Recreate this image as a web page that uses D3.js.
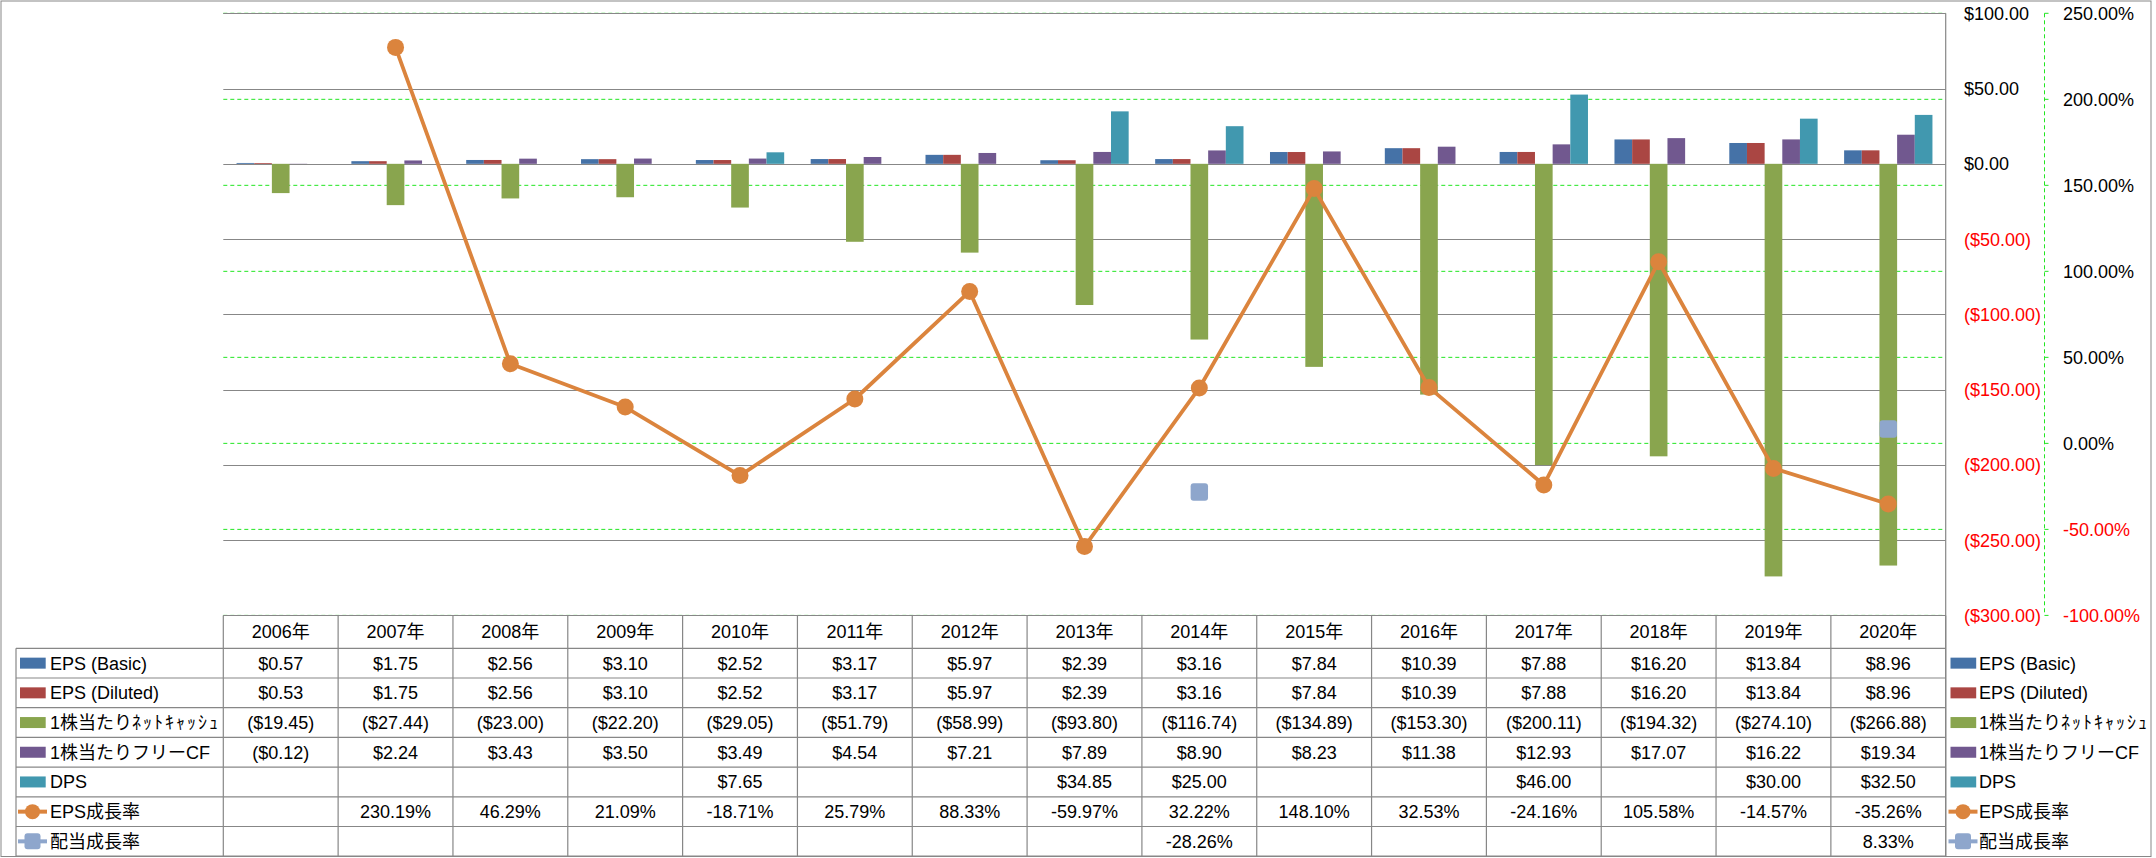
<!DOCTYPE html>
<html><head><meta charset="utf-8">
<script src="https://cdn.jsdelivr.net/npm/d3@7"></script>
<style>
html,body{margin:0;padding:0;background:#fff;}
text{font-family:"Liberation Sans","Noto Sans CJK JP",sans-serif;font-size:18px;fill:#000;}
</style>
</head><body><svg id="c" width="2156" height="858"></svg>
<script>
// ---- data ----
const years = ["2006年","2007年","2008年","2009年","2010年","2011年","2012年","2013年","2014年","2015年","2016年","2017年","2018年","2019年","2020年"];
const epsBasic   = [0.57,1.75,2.56,3.10,2.52,3.17,5.97,2.39,3.16,7.84,10.39,7.88,16.20,13.84,8.96];
const epsDiluted = [0.53,1.75,2.56,3.10,2.52,3.17,5.97,2.39,3.16,7.84,10.39,7.88,16.20,13.84,8.96];
const netCash    = [-19.45,-27.44,-23.00,-22.20,-29.05,-51.79,-58.99,-93.80,-116.74,-134.89,-153.30,-200.11,-194.32,-274.10,-266.88];
const fcf        = [-0.12,2.24,3.43,3.50,3.49,4.54,7.21,7.89,8.90,8.23,11.38,12.93,17.07,16.22,19.34];
const dps        = [null,null,null,null,7.65,null,null,34.85,25.00,null,null,46.00,null,30.00,32.50];
const epsGrowth  = [null,230.19,46.29,21.09,-18.71,25.79,88.33,-59.97,32.22,148.10,32.53,-24.16,105.58,-14.57,-35.26];
const divGrowth  = [null,null,null,null,null,null,null,null,-28.26,null,null,null,null,null,8.33];
const dollarTicks = [100,50,0,-50,-100,-150,-200,-250,-300];
const pctTicks = [250,200,150,100,50,0,-50,-100];
const barNames = ["EPS (Basic)","EPS (Diluted)","1株当たりﾈｯﾄｷｬｯｼｭ","1株当たりフリーCF","DPS"];
const lineNames = ["EPS成長率","配当成長率"];
const barColors = ["#4572A7","#AA4643","#89A54E","#71588F","#4198AF"];
const lineColors = ["#DB843D","#8EA6CC"];

// ---- layout ----
const plotL = 223.3, plotR = 1945.7, plotT = 13.3, plotB = 615.4;
const tableBottom = 856.2, headerBottom = 648.3, tableLeft = 16;
const svg = d3.select("#c");
const gray = "#878787";

const x = d3.scaleBand().domain(years).range([plotL, plotR]).paddingInner(1.5/6.5).paddingOuter(0.75/6.5);
const step = x.step();
const xs = d3.scaleBand().domain(d3.range(5)).range([0, x.bandwidth()]);
const yL = d3.scaleLinear().domain([-300,100]).range([plotB, plotT]);
const yR = d3.scaleLinear().domain([-100,250]).range([plotB, plotT]);

// outer border
svg.append("rect").attr("x",1).attr("y",1).attr("width",2150).attr("height",855.5)
  .attr("fill","none").attr("stroke",gray).attr("stroke-width",1);

// green dashed % gridlines
svg.append("g").selectAll("line").data(pctTicks).join("line")
  .attr("x1",plotL).attr("x2",plotR).attr("y1",d=>yR(d)).attr("y2",d=>yR(d))
  .attr("stroke","#22E622").attr("stroke-width",1).attr("stroke-dasharray","4,3");
// gray $ gridlines
svg.append("g").selectAll("line").data(dollarTicks).join("line")
  .attr("x1",plotL).attr("x2",plotR).attr("y1",d=>Math.round(yL(d))+0.5).attr("y2",d=>Math.round(yL(d))+0.5)
  .attr("stroke",gray).attr("stroke-width",1.2);

// bars
const barSeries = [epsBasic, epsDiluted, netCash, fcf, dps];
barSeries.forEach((arr, si) => {
  svg.append("g").selectAll("rect").data(arr.map((v,i)=>({v, y:years[i]})).filter(d=>d.v!=null)).join("rect")
    .attr("x", d => x(d.y) + xs(si))
    .attr("width", xs.bandwidth())
    .attr("y", d => Math.min(yL(d.v), yL(0)))
    .attr("height", d => Math.abs(yL(d.v) - yL(0)))
    .attr("fill", barColors[si]);
});

// right vertical axis line of plot / table right border
svg.append("line").attr("x1",plotR).attr("x2",plotR).attr("y1",plotT).attr("y2",tableBottom)
  .attr("stroke",gray).attr("stroke-width",1.2);

// EPS growth line
const cx = i => x(years[i]) + x.bandwidth()/2;
const epsPts = epsGrowth.map((v,i)=>({v,i}));
svg.append("path").datum(epsPts)
  .attr("d", d3.line().defined(d=>d.v!=null).x(d=>cx(d.i)).y(d=>yR(d.v)))
  .attr("fill","none").attr("stroke",lineColors[0]).attr("stroke-width",3.8).attr("stroke-linejoin","round");
svg.append("g").selectAll("circle").data(epsPts.filter(d=>d.v!=null)).join("circle")
  .attr("cx",d=>cx(d.i)).attr("cy",d=>yR(d.v)).attr("r",8.5).attr("fill",lineColors[0]);
// dividend growth markers
const divPts = divGrowth.map((v,i)=>({v,i}));
svg.append("path").datum(divPts)
  .attr("d", d3.line().defined(d=>d.v!=null).x(d=>cx(d.i)).y(d=>yR(d.v)))
  .attr("fill","none").attr("stroke",lineColors[1]).attr("stroke-width",3.8);
svg.append("g").selectAll("rect").data(divPts.filter(d=>d.v!=null)).join("rect")
  .attr("x",d=>cx(d.i)-8.7).attr("y",d=>yR(d.v)-8.7).attr("width",17.4).attr("height",17.4)
  .attr("rx",3).attr("fill",lineColors[1]);

// $ axis labels
const fmtDollar = v => v < 0 ? "($" + Math.abs(v).toFixed(2) + ")" : "$" + v.toFixed(2);
const fmtPct = v => v.toFixed(2) + "%";
svg.append("g").selectAll("text").data(dollarTicks).join("text")
  .attr("x",1964).attr("y",d=>yL(d)).attr("dy","0.36em")
  .style("fill",d=>d<0?"#FF0000":"#000").text(fmtDollar);
// % axis
svg.append("line").attr("x1",2044.5).attr("x2",2044.5).attr("y1",plotT).attr("y2",plotB)
  .attr("stroke","#22E622").attr("stroke-width",1).attr("stroke-dasharray","4,3");
svg.append("g").selectAll("line").data(pctTicks).join("line")
  .attr("x1",2044.5).attr("x2",2048.5).attr("y1",d=>yR(d)).attr("y2",d=>yR(d))
  .attr("stroke","#22E622").attr("stroke-width",1);
svg.append("g").selectAll("text").data(pctTicks).join("text")
  .attr("x",2063).attr("y",d=>yR(d)).attr("dy","0.36em")
  .style("fill",d=>d<0?"#FF0000":"#000").text(fmtPct);

// ---- data table ----
const nRows = 7;
const rowH = (tableBottom - headerBottom) / nRows;
const rowY = r => headerBottom + r*rowH;
const tg = svg.append("g");
// vertical column lines
d3.range(16).forEach(k => {
  const xx = plotL + k*step;
  tg.append("line").attr("x1",xx).attr("x2",xx).attr("y1",plotB).attr("y2",tableBottom)
    .attr("stroke",gray).attr("stroke-width",1.2);
});
tg.append("line").attr("x1",tableLeft).attr("x2",tableLeft).attr("y1",headerBottom).attr("y2",tableBottom)
  .attr("stroke",gray).attr("stroke-width",1.2);
d3.range(nRows+1).forEach(r => {
  tg.append("line").attr("x1",tableLeft).attr("x2",plotR).attr("y1",rowY(r)).attr("y2",rowY(r))
    .attr("stroke",gray).attr("stroke-width",1.2);
});
// header
tg.selectAll("text.yr").data(years).join("text").attr("class","yr")
  .attr("x",d=>plotL + years.indexOf(d)*step + step/2).attr("y",(plotB+headerBottom)/2).attr("dy","0.36em")
  .attr("text-anchor","middle").text(d=>d);
// rows
const rows = [
  {name:barNames[0], vals:epsBasic, f:fmtDollar, type:"bar", c:barColors[0]},
  {name:barNames[1], vals:epsDiluted, f:fmtDollar, type:"bar", c:barColors[1]},
  {name:barNames[2], vals:netCash, f:fmtDollar, type:"bar", c:barColors[2]},
  {name:barNames[3], vals:fcf, f:fmtDollar, type:"bar", c:barColors[3]},
  {name:barNames[4], vals:dps, f:fmtDollar, type:"bar", c:barColors[4]},
  {name:lineNames[0], vals:epsGrowth, f:fmtPct, type:"circle", c:lineColors[0]},
  {name:lineNames[1], vals:divGrowth, f:fmtPct, type:"square", c:lineColors[1]}
];
function drawKey(g, x0, cy, row) {
  if (row.type === "bar") {
    g.append("rect").attr("x",x0+2).attr("y",cy-5.5).attr("width",25.7).attr("height",11).attr("fill",row.c);
  } else {
    g.append("line").attr("x1",x0).attr("x2",x0+29).attr("y1",cy).attr("y2",cy)
      .attr("stroke",row.c).attr("stroke-width",4);
    if (row.type === "circle") {
      g.append("circle").attr("cx",x0+14.5).attr("cy",cy).attr("r",7.5).attr("fill",row.c);
    } else {
      g.append("rect").attr("x",x0+6.5).attr("y",cy-8).attr("width",16).attr("height",16).attr("rx",3).attr("fill",row.c);
    }
  }
}
function drawName(g, x0, cy, name) {
  const t = g.append("text").attr("x",x0).attr("y",cy).attr("dy","0.36em");
  // widen half-width katakana to match the reference rendering
  const parts = name.split(/([\uFF61-\uFF9F]+)/).filter(s => s.length);
  parts.forEach(p => {
    const ts = t.append("tspan").text(p);
    if (/[\uFF61-\uFF9F]/.test(p)) ts.attr("letter-spacing", "2px");
  });
}
rows.forEach((row, r) => {
  const cy = rowY(r) + rowH/2;
  drawKey(tg, 18, cy, row);
  drawName(tg, 50, cy, row.name);
  row.vals.forEach((v,i) => {
    if (v == null) return;
    tg.append("text").attr("x",plotL + i*step + step/2).attr("y",cy).attr("dy","0.36em")
      .attr("text-anchor","middle").text(row.f(v));
  });
  // right legend
  drawKey(tg, 1948.5, cy, row);
  drawName(tg, 1979, cy, row.name);
});
</script>
</body></html>
